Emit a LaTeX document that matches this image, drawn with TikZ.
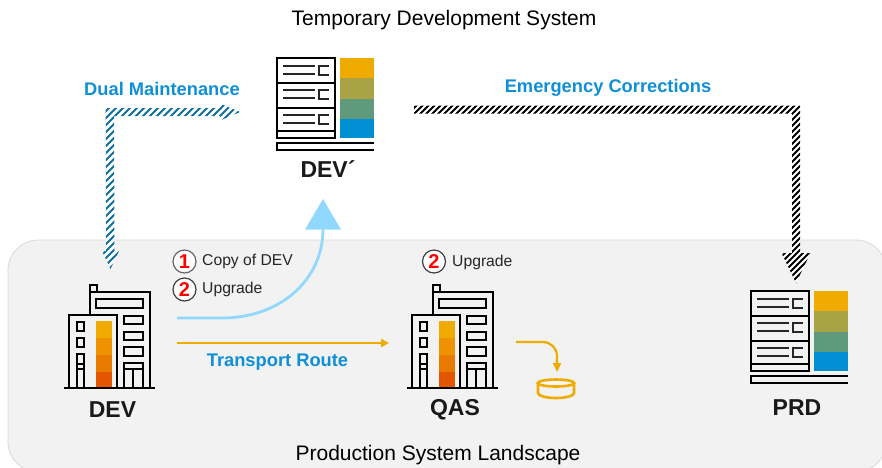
\documentclass[tikz,border=0pt]{standalone}
\usepackage{fontspec}
\setmainfont{Liberation Sans}
\usetikzlibrary{arrows.meta,calc}
\definecolor{band}{HTML}{F2F2F2}
\definecolor{bandedge}{HTML}{DADADA}
\definecolor{sapblue}{HTML}{0F8FD6}
\definecolor{hatchblue}{HTML}{0F6E9E}
\definecolor{lightblue}{HTML}{91D8FF}
\definecolor{gold}{HTML}{F0AB00}
\definecolor{ygreen}{HTML}{A8A445}
\definecolor{sgreen}{HTML}{5F9A7C}
\definecolor{cblue}{HTML}{008FD3}
\definecolor{orA}{HTML}{F0AB00}
\definecolor{orB}{HTML}{EE9200}
\definecolor{orC}{HTML}{E97A00}
\definecolor{orD}{HTML}{E35500}
\newcommand{\hatchshape}[3]{%
  \begin{scope}
    \path[clip] #1;
    \fill[white] (0,0) rectangle (882,467);
    \foreach \k in {0,#3,...,1400}{\draw[#2,line width=1.9pt] (\k,0) -- (\k-500,500);}
  \end{scope}}
\tikzset{
  x=1pt,y=-1pt,
  ink/.style={draw=black,line width=2pt},
  thinink/.style={draw=black!85,line width=1.7pt},
  title/.style={font=\fontsize{21}{23}\selectfont,text=black,inner sep=0pt},
  sysname/.style={font=\fontsize{23}{25}\selectfont\bfseries,text=black!90,inner sep=0pt},
  bluelabel/.style={font=\fontsize{18.3}{20}\selectfont\bfseries,text=sapblue,inner sep=0pt},
  steptext/.style={font=\fontsize{15.7}{17}\selectfont,text=black!85,inner sep=0pt,anchor=west},
  stepmark/.style={circle,draw=#1,line width=1.2pt,fill=white,minimum size=23pt,inner sep=0pt,text=red,font=\fontsize{20}{21}\selectfont\bfseries},
  server/.pic={
    \fill[gold] (63,0) rectangle (97,20);
    \fill[ygreen] (63,20) rectangle (97,40.5);
    \fill[sgreen] (63,40.5) rectangle (97,60.5);
    \fill[cblue] (63,60.5) rectangle (97,80);
    \draw[ink] (0,0) rectangle (58,80);
    \draw[ink] (0,25) -- (58,25) (0,50) -- (58,50) (0,73) -- (58,73);
    \foreach \yy in {0,24,49}{
      \draw[thinink] (6,8+\yy) -- (38,8+\yy) (6,16+\yy) -- (38,16+\yy);
      \draw[thinink] (52,8+\yy) -- (42,8+\yy) -- (42,17+\yy) -- (52,17+\yy);
    }
    \draw[ink] (97,85) -- (0,85) -- (0,92) -- (97,92);
  },
  building/.pic={
    \fill[orA] (96,321) rectangle (112,338);
    \fill[orB] (96,338) rectangle (112,355);
    \fill[orC] (96,355) rectangle (112,372);
    \fill[orD] (96,372) rectangle (112,388);
    \draw[ink] (64,388) -- (155,388);
    \draw[ink] (69,388) -- (69,315) -- (117,315) -- (117,388);
    \draw[ink] (90,315) -- (90,292) -- (150,292) -- (150,388);
    \draw[ink] (90,292) -- (90,285) -- (97,285) -- (97,292);
    \draw[ink] (96,299) rectangle (143,308);
    \draw[ink] (124,316) rectangle (143,324);
    \draw[ink] (124,332) rectangle (143,340);
    \draw[ink] (124,347) rectangle (143,356);
    \draw[ink] (124,388) -- (124,363) -- (143,363) -- (143,388);
    \draw[ink] (124,369) -- (143,369) (133,369) -- (133,388);
    \draw[ink] (77,322) rectangle (84,331);
    \draw[ink] (77,338) rectangle (84,347);
    \draw[ink] (77,388) -- (77,354) -- (84,354) -- (84,388);
    \draw[ink] (77,364) -- (84,364) (77,369) -- (84,369);
  }
}
\begin{document}
\begin{tikzpicture}
\useasboundingbox (0,0) rectangle (882,467);
% landscape band
\path[fill=band,draw=bandedge,line width=0.8pt,rounded corners=30pt] (8,240) rectangle (886,472);

% texts
\node[title] (tds) at (444,20) {Temporary Development System};
\node[title] (psl) at (438,455) {Production System Landscape};
\node[bluelabel] (dual) at (162,89) {Dual Maintenance};
\node[bluelabel] (emerg) at (608,88) {Emergency Corrections};
\node[bluelabel] (route) at (277.5,362) {Transport Route};

% systems
\pic (devp) at (277,58) {server};
\pic (prd) at (751,291) {server};
\pic (dev) at (0,0) {building};
\pic (qas) at (343,0) {building};
\node[sysname] (devname) at (112.5,409.5) {DEV};
\node[sysname] (qasname) at (455,409.5) {QAS};
\node[sysname] (devpname) at (328,169) {DEV´};
\node[sysname] (prdname) at (797,408) {PRD};

% step marks
\node[stepmark=black!60] (s1) at (184.5,261.5) {1};
\node[stepmark=black!75] (s2) at (184.5,289.5) {2};
\node[stepmark=black!75] (s3) at (434,261.5) {2};
\node[steptext] (t1) at (202,261) {Copy of DEV};
\node[steptext] (t2) at (202,289) {Upgrade};
\node[steptext] (t3) at (452,262) {Upgrade};

% connector anchors
\coordinate (bluestart) at (177,318);
\coordinate (bluebend) at (222,318);
\coordinate (blueend) at (323,229);
\coordinate (bluetip) at (323,199);
\coordinate (routestart) at (177,343);
\coordinate (routeend) at (389,343);
\coordinate (dbstart) at (516,342);
\coordinate (dbtip) at (557,372);
\coordinate (dualtipA) at (240,112);
\coordinate (dualcorner) at (110,112);
\coordinate (dualtipB) at (110.5,269);
\coordinate (emstart) at (414,109.5);
\coordinate (emcorner) at (796,109.5);
\coordinate (emtip) at (796,283);
\coordinate (dbtop) at (556,383);

% copy of DEV curve
\draw[lightblue,line width=2.8pt] (bluestart) -- (bluebend) .. controls +(58,0) and +(0,51) .. (blueend);
\path[fill=lightblue] (bluetip) -- ($(bluetip)+(18,30.5)$) -- ($(bluetip)+(-18,30.5)$) -- cycle;

% transport route
\draw[gold,line width=2.2pt,-{Stealth[length=8pt,width=8pt,inset=0pt]}] (routestart) -- (routeend);

% database
\draw[gold,line width=2.2pt,-{Stealth[length=9pt,width=8pt,inset=0pt]},rounded corners=14pt] (dbstart) -- (dbtip |- dbstart) -- (dbtip);
\path[draw=gold,line width=2.6pt,fill=band] ($(dbtop)+(-18,0)$) -- ($(dbtop)+(-18,10)$) arc[start angle=180,end angle=360,x radius=18,y radius=-5] -- ($(dbtop)+(18,0)$);
\draw[gold,line width=2.6pt,fill=band!60!white] (dbtop) ellipse[x radius=18,y radius=3.5];

% dual maintenance
\hatchshape{(dualtipA) -- ($(dualtipA)+(-20,-8.5)$) -- ($(dualtipA)+(-20,-4)$)
  -- ($(dualcorner)+(-4.3,-4)$) -- ($(dualtipB)+(-4.3,-18)$) -- ($(dualtipB)+(-8.5,-18)$)
  -- (dualtipB) -- ($(dualtipB)+(8.5,-18)$) -- ($(dualtipB)+(4,-18)$)
  -- ($(dualcorner)+(4,4)$) -- ($(dualtipA)+(-20,4)$) -- ($(dualtipA)+(-20,8.5)$) -- cycle}{hatchblue}{7}

% emergency corrections
\hatchshape{($(emstart)+(0,-4)$) -- ($(emcorner)+(4,-4)$) -- ($(emtip)+(4,-30)$) -- ($(emtip)+(14.5,-30)$)
  -- (emtip) -- ($(emtip)+(-14.5,-30)$) -- ($(emtip)+(-4,-30)$)
  -- ($(emcorner)+(-4,4)$) -- ($(emstart)+(0,4)$) -- cycle}{black}{6}
\end{tikzpicture}
\end{document}
